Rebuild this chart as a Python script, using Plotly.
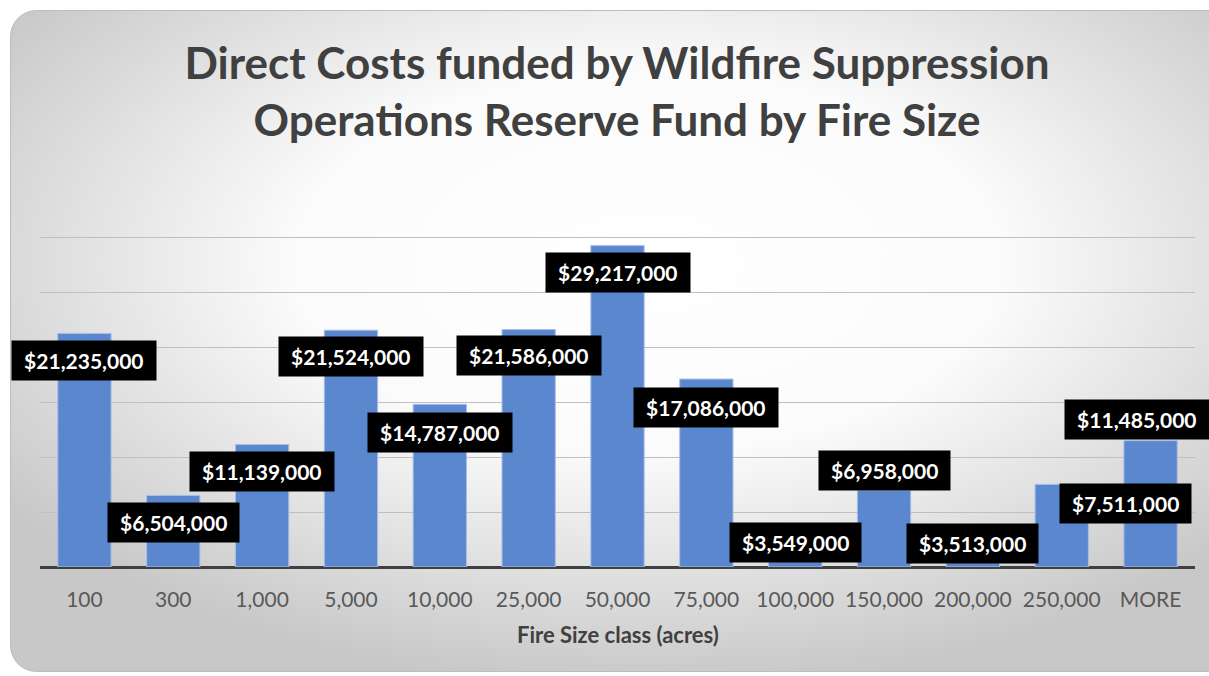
import base64
import plotly.graph_objects as go

categories = ["100", "300", "1,000", "5,000", "10,000", "25,000", "50,000",
              "75,000", "100,000", "150,000", "200,000", "250,000", "MORE"]
costs = [21235000, 6504000, 11139000, 21524000, 14787000, 21586000, 29217000,
         17086000, 3549000, 6958000, 3513000, 7511000, 11485000]
# label placement relative to the bar top (millions of $) and sideways shift (px)
label_dy = [-2.5, -2.5, -2.5, -2.4, -2.6, -2.4, -2.4, -2.6, -1.35, 1.85, -1.35, -1.7, 1.9]
label_dx = [0, 0, 0, 0, 0, 0, 0, 0, 0, 0, 0, 64, -14]

W, H = 1209, 676
PL, PR, PB, PT = 40, 1195, 567, 182  # plot area in pixels

svg = f'''<svg xmlns="http://www.w3.org/2000/svg" width="{W}" height="{H}" viewBox="0 0 {W} {H}">
<defs><radialGradient id="g" cx="0.52" cy="0.38" r="0.64">
<stop offset="0" stop-color="#ffffff"/><stop offset="0.45" stop-color="#fbfbfb"/>
<stop offset="1" stop-color="#c8c8c8"/></radialGradient></defs>
<rect x="10.5" y="10.5" width="1225" height="661" rx="26" ry="26" fill="url(#g)" stroke="#bdbdbd" stroke-width="1"/>
</svg>'''
src = "data:image/svg+xml;base64," + base64.b64encode(svg.encode()).decode()

fig = go.Figure()
fig.add_trace(go.Bar(
    x=categories, y=costs,
    marker=dict(color="#5B87CF", line=dict(color="#A9BEE6", width=1)),
    hoverinfo="x+y",
))

annotations = []
for i, (v, dy, dx) in enumerate(zip(costs, label_dy, label_dx)):
    annotations.append(dict(
        x=i, y=v + dy * 1e6, xref="x", yref="y",
        text="\u00a0" + "${:,.0f}".format(v) + "\u00a0",
        showarrow=False, bgcolor="#000000", borderpad=7, xshift=dx,
        font=dict(family="Lato", size=21, color="#ffffff", weight="bold"),
    ))

annotations.append(dict(
    x=(PL + PR) / 2 / W, y=1 - 634 / H, xref="paper", yref="paper",
    xanchor="center", yanchor="middle",
    text="<b>Fire Size class (acres)</b>", showarrow=False,
    font=dict(family="Lato", size=22, color="#404040"),
))

fig.update_layout(
    width=W, height=H,
    margin=dict(l=0, r=0, t=0, b=0),
    paper_bgcolor="#ffffff", plot_bgcolor="rgba(0,0,0,0)",
    images=[dict(source=src, xref="paper", yref="paper", x=0, y=1,
                 sizex=1, sizey=1, sizing="stretch", layer="below",
                 xanchor="left", yanchor="top")],
    title=dict(
        text="<b>Direct Costs funded by Wildfire Suppression<br>Operations Reserve Fund by Fire Size</b>",
        x=617 / W, xanchor="center", y=1 - 79 / H, yanchor="middle",
        font=dict(family="Lato", size=44, color="#404040"),
    ),
    bargap=0.4,
    showlegend=False,
    annotations=annotations,
    xaxis=dict(type="category", domain=[PL / W, PR / W], range=[-0.5, len(categories) - 0.5],
               showgrid=False, showline=False,
               tickfont=dict(family="Lato", size=21, color="#595959"),
               ticks="", ticklabelstandoff=18, tickangle=0),
    yaxis=dict(domain=[1 - PB / H, 1 - PT / H], range=[0, 35000000], dtick=5000000,
               showticklabels=False, showgrid=True, gridcolor="#bfbfbf", gridwidth=1,
               zeroline=True, zerolinecolor="#404040", zerolinewidth=3, showline=False),
)

fig.write_html("out.html", config={"displayModeBar": False},
               post_script="document.body.style.margin='0';document.body.style.overflow='hidden';")
